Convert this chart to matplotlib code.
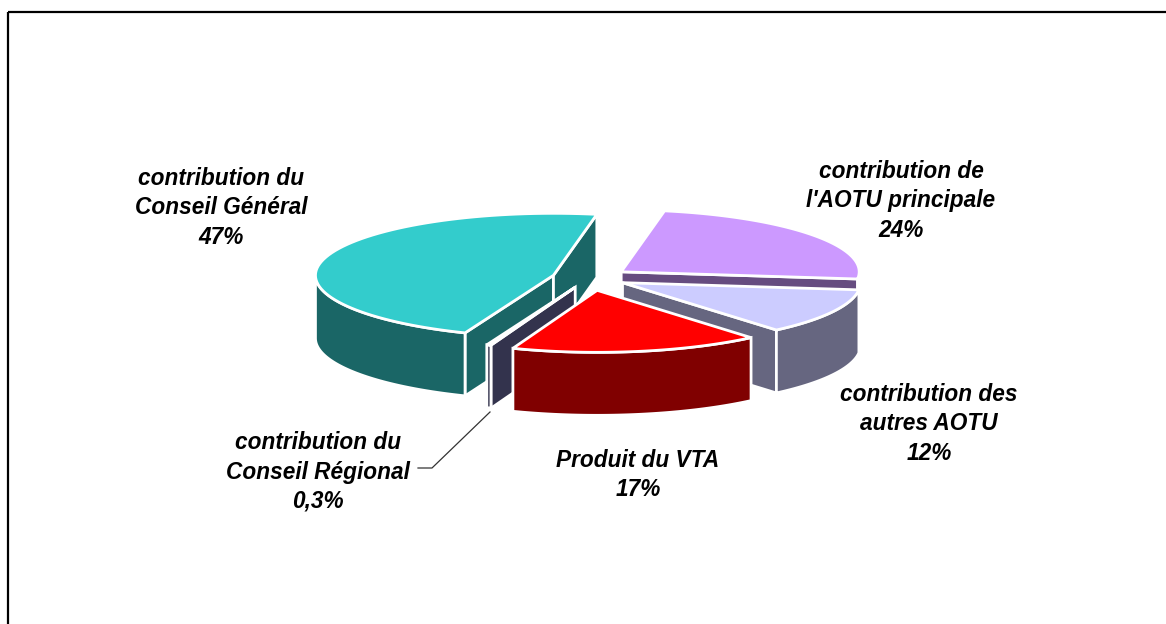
import numpy as np
import matplotlib
matplotlib.use("Agg")
import matplotlib.pyplot as plt
from matplotlib.patches import Polygon, Rectangle

# data, in drawing order (clockwise from the back)
categories = ["contribution de\nl'AOTU principale", "contribution des\nautres AOTU",
              "contribution du\nConseil Général", "contribution du\nConseil Régional", "Produit du VTA"]
pct_labels = ["24%", "12%", "47%", "0,3%", "17%"]
values = [24, 12, 47, 0.3, 17]
pie_order = [0, 1, 4, 3, 2]  # clockwise order round the pie
top_colors = ["#CC99FF", "#CCCCFF", "#33CCCC", "#666699", "#FF0000"]
side_colors = ["#664C80", "#666680", "#1A6666", "#33334D", "#800000"]
explode = [40, 38, 37, 38, 48]
label_x = [901, 929, 221, 318, 638]
label_y = [201, 424, 208, 472, 475]

# layout of the fake 3d pie, in pixels
cx, cy = 589, 278
rx, ry = 238, 62
depth = 63
start_angle = 79.5

plt.rcParams["font.family"] = ["Liberation Sans", "DejaVu Sans"]
fig = plt.figure(figsize=(11.66, 6.24), dpi=100)
ax = fig.add_axes([0, 0, 1, 1])
ax.set_xlim(0, 1166)
ax.set_ylim(624, 0)
ax.axis("off")

# angles of each slice going clockwise
total = sum(values)
angles = {}
a = start_angle
for i in pie_order:
    sweep = 360.0 * values[i] / total
    angles[i] = (a, a - sweep)
    a -= sweep


def arc(x0, y0, a1, a2):
    t = np.radians(np.linspace(a1, a2, 80))
    return np.column_stack([x0 + rx * np.cos(t), y0 - ry * np.sin(t)])


def shape(pts, color, z):
    ax.add_patch(Polygon(pts, closed=True, facecolor=color, edgecolor="white",
                         linewidth=2, joinstyle="miter", zorder=z))


for z, i in enumerate(range(len(values))):
    a1, a2 = angles[i]
    mid = np.radians((a1 + a2) / 2)
    x0 = cx + explode[i] * np.cos(mid)
    y0 = cy - explode[i] * np.sin(mid) * ry / rx
    apex = np.array([x0, y0])
    down = np.array([0, depth])
    base = z * 10 + 2

    # radial walls that face the viewer
    for ang, seen in ((a1, np.cos(np.radians(a1)) < 0), (a2, np.cos(np.radians(a2)) > 0)):
        if seen:
            p = arc(x0, y0, ang, ang)[0]
            shape([apex, p, p + down, apex + down], side_colors[i], base)

    # outer wall, only the part in front (angles between -180 and 0, modulo 360)
    for k in range(-1, 1):
        lo = max(a2, -180 + 360 * k)
        hi = min(a1, 0 + 360 * k)
        if hi > lo:
            edge = arc(x0, y0, hi, lo)
            shape(np.vstack([edge, edge[::-1] + down]), side_colors[i], base + 1)

    shape(np.vstack([[apex], arc(x0, y0, a1, a2)]), top_colors[i], base + 2)

    ax.text(label_x[i], label_y[i], categories[i] + "\n" + pct_labels[i], ha="center", va="center",
            fontsize=16.3, fontweight="bold", fontstyle="italic", color="black",
            linespacing=1.36, zorder=100)

# leader line of the smallest slice
ax.plot([418, 432, 490], [468, 468, 412], color="#333333", lw=0.9, zorder=90)

# frame, running off the picture on the right and at the bottom
ax.add_patch(Rectangle((8, 12), 1300, 800, facecolor="none", edgecolor="black", lw=1.6, zorder=95))

fig.savefig("out.png", dpi=100)
